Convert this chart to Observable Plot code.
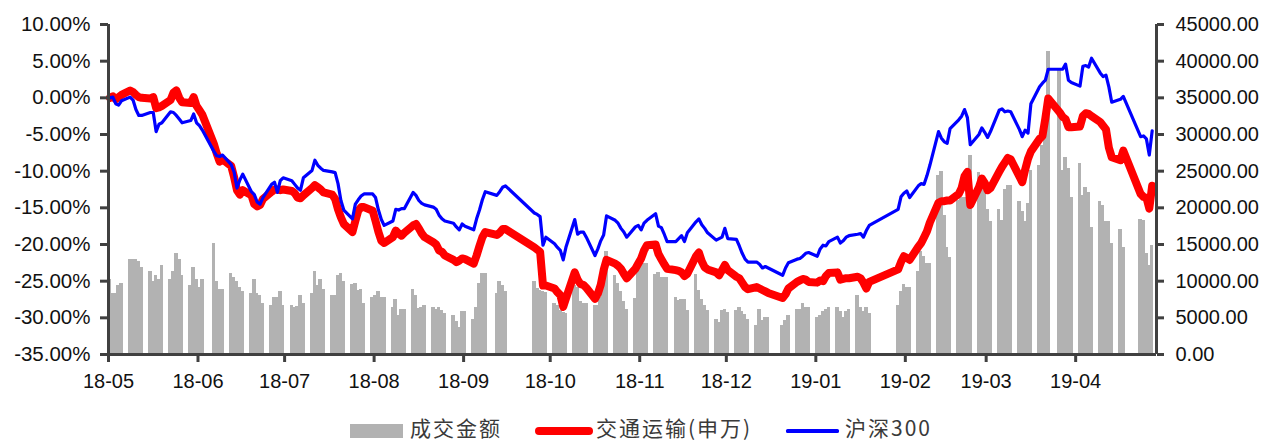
<!DOCTYPE html>
<html>
<head>
<meta charset="utf-8">
<script src="https://cdn.jsdelivr.net/npm/d3@7"></script>
<script src="https://cdn.jsdelivr.net/npm/@observablehq/plot@0.6"></script>
<style>
  html, body { margin: 0; padding: 0; background: #fff; }
  #wrap { width: 1265px; position: relative; }
  #legend { position: relative; width: 1265px; height: 43px; font-family: "Noto Sans CJK SC", "Noto Sans", sans-serif; font-size: 21px; color: #3a3a3a; }
  #legend > div { position: absolute; }
  #legend .txt { top: 12px; line-height: normal; letter-spacing: 2px; white-space: nowrap; }
</style>
</head>
<body>
<div id="wrap">
  <div id="chart"></div>
  <div id="legend"></div>
</div>
<script>
// Trading calendar: weekdays from 2018-05-14 to 2019-05-10, minus exchange holidays
const firstDay = "2018-05-14";
const lastDay = "2019-05-10";
const holidays = [
  "2018-06-18", "2018-09-24",
  "2018-10-01", "2018-10-02", "2018-10-03", "2018-10-04", "2018-10-05",
  "2018-12-31", "2019-01-01",
  "2019-02-04", "2019-02-05", "2019-02-06", "2019-02-07", "2019-02-08",
  "2019-04-05", "2019-05-01", "2019-05-02", "2019-05-03"
];

// 成交金额 (daily turnover), one row per trading week
const turnover = [
  10190, 8360, 8360, 9410, 9640,
  12900, 12900, 12900, 12700, 11900,
  11300, 9900, 10800, 10200, 12100,
  10200, 11300, 13800, 13000, 10800,
  9400, 11900, 10200, 9100, 10200,
  15100, 9900, 8900, 8900,
  11000, 10500, 10000, 9100, 8600,
  8300, 10200, 8300, 8000, 7000,
  6700, 7800, 7800, 8600, 6700,
  6700, 6400, 6500, 8000, 7000,
  8300, 11300, 9400, 10200, 8900,
  8000, 8000, 10800, 11000, 10000,
  9500, 9700, 8700, 8900, 7000,
  7800, 8000, 8600, 7800, 7800,
  6400, 7500, 5300, 6100, 6100,
  8900, 8000, 6300, 6400, 6700,
  6400, 6100, 6400, 6000, 5600,
  5300, 4500, 3700, 5900, 5900,
  4800, 6400, 9700, 11000, 11000,
  8300, 10000, 9400, 8600,
  10000, 9000, 8700, 8600, 8500,
  7000, 6700, 6000, 5700, 5600,
  9400, 9200, 7200, 7000, 7000,
  6700, 6700, 7800, 10500, 14000,
  10800, 9700, 8600, 7200, 6100,
  7600, 11900, 12400, 12400, 12400,
  10900, 11200, 10500, 10500, 10500,
  7800, 7400, 7500, 7500, 6000,
  10900, 8700, 7500, 6700, 6000,
  4800, 4400, 6000, 6100, 5700,
  6000, 6400, 5900, 5500, 4800,
  4000, 6100, 4600, 5100, 5100,
  4000, 4600, 5300,
  6100, 6100, 7000, 6400, 6400,
  5000, 5300, 5900, 6100, 6400,
  6400, 5900, 5000, 5900, 6100,
  8000, 6400, 5900, 6400, 5600,
  6700, 8600, 9500, 9100, 9100,
  11300, 14000, 13300, 12400, 12400,
  24400, 25000, 19000, 14600, 13200,
  21000, 21400, 21400, 21000, 27100,
  24800, 24400, 22400, 19800, 18100,
  19800, 18300, 22500, 23000, 23000,
  20900, 19500, 18100, 20600, 25100,
  25800, 28500, 30500, 41300,
  38700, 25100, 26900, 25400, 21400,
  26000, 21700, 22800, 22100, 17300,
  20900, 20300, 18100, 18100, 15100,
  17000, 14600,
  18400, 18300, 13800, 12100, 14900
];

// 交通运输(申万), cumulative change in %
const transport = [
  0.0, 0.2, -0.2, 0.1, 0.4,
  1.0, 0.8, 0.4, 0.1, 0.0,
  -0.1, 0.1, -1.4, -1.3, -1.1,
  -0.3, 0.7, 1.0, 0.0, -0.6,
  -0.7, 0.1, -1.1, -1.7, -2.3,
  -6.3, -7.6, -8.7, -8.4,
  -9.3, -10.8, -12.6, -13.2, -12.6,
  -13.3, -14.5, -14.8, -14.6, -13.8,
  -12.8, -12.5, -12.5, -12.6, -12.5,
  -12.7, -13.0, -13.6, -13.7, -13.3,
  -12.3, -11.9, -12.2, -12.5, -12.9,
  -13.2, -13.8, -15.2, -16.3, -17.2,
  -18.3, -16.8, -15.4, -14.9, -14.9,
  -15.4, -16.8, -18.3, -19.5, -19.8,
  -19.0, -18.1, -18.5, -18.8, -18.4,
  -17.4, -17.2, -17.8, -18.5, -19.0,
  -19.7, -20.0, -20.8, -21.0, -21.5,
  -22.1, -22.4, -22.2, -21.9, -22.0,
  -22.6, -21.5, -20.2, -19.0, -18.3,
  -18.7, -18.4, -17.9, -17.9,
  -20.4, -20.7, -21.0, -25.6, -25.6,
  -26.0, -26.5, -26.9, -28.5, -27.3,
  -23.8, -24.8, -25.4, -25.5, -25.9,
  -27.4, -26.7, -25.5, -23.5, -22.1,
  -22.6, -22.9, -23.3, -24.0, -24.6,
  -23.3, -22.6, -21.9, -20.8, -20.1,
  -20.0, -21.3, -22.0, -22.7, -23.3,
  -23.5, -23.6, -23.8, -24.3, -24.0,
  -21.6, -21.1, -22.3, -23.1, -23.4,
  -23.8, -24.2, -23.5, -22.8, -23.5,
  -24.4, -24.6, -25.2, -25.8, -26.1,
  -25.8, -26.0, -26.2, -26.4, -26.6,
  -27.3, -26.8, -26.0,
  -25.1, -24.9, -24.7, -24.8, -25.1,
  -25.2, -24.9, -25.0, -24.3, -23.9,
  -23.8, -24.8, -24.7, -24.6, -24.6,
  -24.4, -24.6, -25.2, -26.0, -25.1,
  -23.4, -22.4, -21.6, -21.8, -22.1,
  -20.3, -19.8, -19.0, -18.2, -17.0,
  -14.3, -14.1, -14.1, -14.0, -14.0,
  -13.1, -12.3, -10.7, -10.1, -14.6,
  -12.2, -11.0, -11.6, -12.6, -12.3,
  -10.1, -9.4, -8.8, -8.2, -8.4,
  -10.7, -11.5, -9.8, -8.3, -7.3,
  -5.6, -5.2, -2.8, -0.1,
  -2.0, -2.6, -2.9, -4.0, -4.0,
  -3.9, -2.5, -2.1, -2.2, -2.5,
  -3.3, -3.8, -4.3, -6.8, -8.1,
  -8.5, -7.2,
  -13.1, -13.5, -13.6, -15.1, -12.0
];

// 沪深300, cumulative change in %
const csi300 = [
  0.0, 0.1, -0.8, -1.0, -0.4,
  0.1, -0.3, -1.6, -2.4, -2.4,
  -2.0, -2.0, -4.6, -3.6, -3.4,
  -1.9, -2.0, -2.4, -2.9, -3.4,
  -3.1, -2.2, -3.4, -3.8, -4.4,
  -7.3, -7.9, -8.0, -7.8,
  -9.1, -10.1, -12.3, -11.2, -10.4,
  -12.8, -13.2, -14.2, -14.5, -13.6,
  -11.8, -11.5, -12.9, -11.3, -10.9,
  -11.3, -11.8, -12.3, -12.6, -10.9,
  -9.9, -8.5, -9.2, -9.6, -9.9,
  -10.1, -10.2, -11.7, -14.0, -15.3,
  -16.5, -14.5, -13.9, -13.4, -13.1,
  -13.1, -13.6, -15.3, -16.6, -17.4,
  -16.8, -15.2, -15.3, -15.1, -15.1,
  -12.9, -13.3, -14.0, -14.4, -14.6,
  -14.9, -15.2, -16.0, -16.5, -16.8,
  -17.1, -17.6, -18.0, -17.2, -17.5,
  -18.0, -16.5, -15.3, -13.9, -12.8,
  -13.3, -12.8, -12.2, -12.0,
  -15.7, -15.9, -16.2, -20.1, -19.0,
  -19.9, -20.4, -20.8, -22.1, -20.3,
  -16.6, -18.6, -18.3, -18.3, -19.0,
  -21.5, -20.6, -19.5, -18.7, -16.1,
  -16.7, -17.1, -17.8, -18.3, -19.0,
  -17.6, -17.4, -18.0, -17.1, -16.7,
  -15.8, -17.5, -17.7, -18.6, -19.6,
  -19.6, -19.2, -18.8, -19.6, -18.4,
  -16.9, -16.5, -17.3, -17.8, -18.4,
  -19.4, -19.2, -19.0, -17.8, -19.2,
  -19.3, -20.2, -21.2, -22.0, -22.4,
  -22.4, -22.7, -23.2, -23.0, -23.2,
  -24.2, -23.2, -22.5,
  -22.0, -21.9, -21.6, -21.2, -21.1,
  -21.6, -20.6, -20.1, -20.2, -19.6,
  -19.0, -19.8, -19.5, -19.0, -18.8,
  -18.6, -18.5, -19.0, -18.1, -17.4,
  -15.2, -13.5, -13.0, -12.7, -13.6,
  -12.0, -11.7, -11.8, -10.6, -9.2,
  -4.6, -5.5, -6.0, -6.2, -4.2,
  -3.0, -2.5, -1.6, -2.7, -6.4,
  -5.0, -4.1, -4.7, -5.4, -4.6,
  -1.7, -1.5, -1.9, -1.8, -1.9,
  -4.3, -5.3, -4.4, -4.8, -0.8,
  1.5, 2.0, 2.4, 3.9,
  3.9, 3.9, 4.6, 2.4, 2.1,
  1.6, 4.3, 4.4, 4.2, 5.4,
  3.4, 2.9, 3.1, 1.5, -0.6,
  -0.2, 0.2,
  -5.3, -5.2, -5.6, -7.8, -4.5
];

// Axis ticks
const pctTicks = [-35, -30, -25, -20, -15, -10, -5, 0, 5, 10];
const turnoverTicks = [0, 5000, 10000, 15000, 20000, 25000, 30000, 35000, 40000, 45000];
const monthLabels = ["18-05", "18-06", "18-07", "18-08", "18-09", "18-10",
                     "18-11", "18-12", "19-01", "19-02", "19-03", "19-04"];

// Series names and colours
const seriesNames = ["成交金额", "交通运输(申万)", "沪深300"];
const barColor = "#b2b2b2";
const transportColor = "#ff0000";
const csiColor = "#0000ff";
const axisColor = "#404040";

// ---- build the daily table ----
const DAY = 864e5;
const holidaySet = new Set(holidays);
const days = [];
for (let t = Date.parse(firstDay + "T00:00Z"); t <= Date.parse(lastDay + "T00:00Z"); t += DAY) {
  const d = new Date(t);
  const wd = d.getUTCDay();
  if (wd === 0 || wd === 6) continue;
  if (holidaySet.has(d.toISOString().slice(0, 10))) continue;
  days.push(d);
}
const rows = days.map((date, i) => ({
  date,
  turnover: turnover[i],
  transport: transport[i],
  csi300: csi300[i]
}));

// the right-hand turnover axis shares the frame with the % axis:
// 0 sits on -35%, 45000 on 10%
const pctLo = -35, pctHi = 10, volHi = 45000;
const volToPct = v => pctLo + v / volHi * (pctHi - pctLo);
const pctToVol = p => (p - pctLo) / (pctHi - pctLo) * volHi;

// month ticks fall on the 13th, one slot before the first trading day
const monthTicks = monthLabels.map(s => {
  const [yy, mm] = s.split("-").map(Number);
  return new Date(Date.UTC(2000 + yy, mm - 1, 13, 12));
});
const labelOf = new Map(monthTicks.map((d, i) => [+d, monthLabels[i]]));
const xDomain = [new Date(Date.UTC(2018, 4, 13, 12)), new Date(Date.UTC(2019, 4, 11, 12))];
const halfBar = 0.62 * DAY;

const chart = Plot.plot({
  width: 1265,
  height: 400,
  marginLeft: 108,
  marginRight: 109,
  marginTop: 24,
  marginBottom: 46,
  style: {
    fontFamily: "'Liberation Sans', Arial, sans-serif",
    fontSize: "20px",
    color: "#111",
    background: "#fff",
    overflow: "visible"
  },
  x: {type: "utc", domain: xDomain},
  y: {domain: [pctLo, pctHi]},
  marks: [
    Plot.rect(rows, {
      x1: d => new Date(+d.date - halfBar),
      x2: d => new Date(+d.date + halfBar),
      y1: pctLo,
      y2: d => volToPct(d.turnover),
      fill: barColor,
      shapeRendering: "crispEdges"
    }),
    Plot.line(rows, {
      x: "date", y: "transport",
      stroke: transportColor, strokeWidth: 8,
      strokeLinejoin: "round", strokeLinecap: "round"
    }),
    Plot.line(rows, {
      x: "date", y: "csi300",
      stroke: csiColor, strokeWidth: 3.2,
      strokeLinejoin: "round", strokeLinecap: "round"
    }),
    // frame lines
    Plot.ruleY([pctLo], {stroke: axisColor, strokeWidth: 3}),
    Plot.ruleX([xDomain[0]], {y1: pctLo, y2: pctHi, stroke: axisColor, strokeWidth: 3}),
    Plot.ruleX([xDomain[1]], {y1: pctLo, y2: pctHi, stroke: axisColor, strokeWidth: 3}),
    // left % axis
    Plot.axisY(pctTicks, {
      anchor: "left", label: null, tickSize: 8, tickPadding: 10,
      tickFormat: d => d.toFixed(2) + "%",
      stroke: axisColor, strokeWidth: 3, fill: "#111", fontSize: 20.5
    }),
    // right turnover axis
    Plot.axisY(turnoverTicks.map(volToPct), {
      anchor: "right", label: null, tickSize: 7, tickPadding: 12,
      tickFormat: p => Math.round(pctToVol(p)).toFixed(2),
      stroke: axisColor, strokeWidth: 3, fill: "#111", fontSize: 20
    }),
    // month axis
    Plot.axisX(monthTicks, {
      anchor: "bottom", label: null, tickSize: 8, tickPadding: 11,
      tickFormat: d => labelOf.get(+d),
      stroke: axisColor, strokeWidth: 3, fill: "#111", fontSize: 20
    })
  ]
});
document.getElementById("chart").appendChild(chart);

// legend below the plot
const legend = document.getElementById("legend");
const items = [
  {kind: "box", x: 350, w: 53, text: seriesNames[0], tx: 410},
  {kind: "line", x: 535, w: 58, h: 8, color: transportColor, text: seriesNames[1], tx: 596},
  {kind: "line", x: 786, w: 53, h: 3.2, color: csiColor, text: seriesNames[2], tx: 845}
];
const swatchMid = 31;
for (const it of items) {
  const sw = document.createElement("div");
  if (it.kind === "box") {
    Object.assign(sw.style, {left: it.x + "px", top: (swatchMid - 7) + "px", width: it.w + "px", height: "14px", background: barColor});
  } else {
    Object.assign(sw.style, {left: it.x + "px", top: (swatchMid - it.h / 2) + "px", width: it.w + "px", height: it.h + "px",
      background: it.color, borderRadius: (it.h / 2) + "px"});
  }
  legend.appendChild(sw);
  const tx = document.createElement("div");
  tx.className = "txt";
  tx.style.left = it.tx + "px";
  tx.textContent = it.text;
  legend.appendChild(tx);
}
</script>
</body>
</html>
